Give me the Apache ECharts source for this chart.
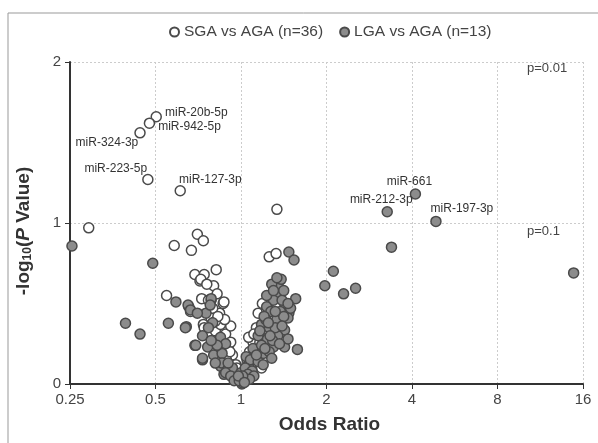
<!DOCTYPE html>
<html>
<head>
<meta charset="utf-8">
<script src="https://cdn.jsdelivr.net/npm/echarts@6/dist/echarts.min.js"></script>
<style>
html,body{margin:0;padding:0;background:#fff;}
#main{width:598px;height:443px;}
</style>
</head>
<body>
<div id="main"></div>
<script>
// x ticks (odds ratio, log2 axis)
var xTicks = [0.25, 0.5, 1, 2, 4, 8, 16];
var yTicks = [0, 1, 2];

// SGA vs AGA: [odds ratio, -log10 p, name]
var sgaPoints = [
	[0.503, 1.66, 'miR-20b-5p'], [0.476, 1.62, 'miR-942-5p'], [0.441, 1.56, 'miR-324-3p'],
	[0.470, 1.27, 'miR-223-5p'], [0.611, 1.20, 'miR-127-3p'],
	[1.338, 1.085], [0.291, 0.97], [0.582, 0.86], [0.669, 0.83], [0.702, 0.93], [0.737, 0.89],
	[0.688, 0.68], [0.742, 0.68], [0.717, 0.64], [0.818, 0.71], [0.547, 0.55], [0.664, 0.45],
	[0.727, 0.53], [0.801, 0.61], [1.257, 0.79], [1.329, 0.81],
	[0.722, 0.65], [0.865, 0.50], [0.801, 0.45], [0.737, 0.37], [0.871, 0.385], [0.901, 0.23],
	[0.768, 0.52], [0.824, 0.56], [0.841, 0.44], [0.785, 0.41], [0.812, 0.33], [0.883, 0.31],
	[0.841, 0.28], [0.920, 0.26], [0.858, 0.22], [0.933, 0.18], [0.889, 0.15], [0.959, 0.12],
	[0.920, 0.10], [0.973, 0.07], [0.946, 0.05], [0.986, 0.03], [0.742, 0.35], [0.847, 0.37],
	[0.920, 0.36], [0.876, 0.40], [0.871, 0.51], [0.795, 0.47], [0.758, 0.62], [0.812, 0.39],
	[0.914, 0.20], [0.829, 0.42], [0.966, 0.10],
	[1.087, 0.29], [1.149, 0.44], [1.157, 0.12], [1.102, 0.26], [1.064, 0.29], [1.181, 0.10],
	[1.043, 0.08], [1.021, 0.04], [1.117, 0.18], [1.214, 0.33], [1.231, 0.46], [1.274, 0.55],
	[1.189, 0.50], [1.133, 0.35], [1.248, 0.25], [1.320, 0.62], [1.072, 0.20], [1.165, 0.26],
	[1.094, 0.13], [1.338, 0.48], [1.283, 0.40], [1.110, 0.31], [1.050, 0.15], [1.206, 0.20]
];

// LGA vs AGA
var lgaPoints = [
	[3.272, 1.07, 'miR-212-3p'], [4.112, 1.18, 'miR-661'], [4.857, 1.01, 'miR-197-3p'],
	[0.254, 0.857], [0.489, 0.75], [0.392, 0.377], [0.441, 0.31], [0.590, 0.51], [0.555, 0.377],
	[0.655, 0.48], [0.642, 0.356], [0.688, 0.24], [0.732, 0.15], [1.474, 0.82], [1.537, 0.77],
	[1.558, 0.53], [1.580, 0.215], [1.357, 0.59], [2.114, 0.70], [1.973, 0.61], [2.297, 0.56],
	[2.532, 0.595], [3.387, 0.85], [14.83, 0.69],
	[0.785, 0.52], [0.651, 0.49], [0.664, 0.46], [0.753, 0.44], [0.795, 0.38], [0.637, 0.35],
	[0.693, 0.24], [0.763, 0.23], [0.732, 0.16], [0.829, 0.17], [0.847, 0.11], [0.871, 0.06],
	[0.785, 0.53], [0.768, 0.35], [0.801, 0.18], [0.858, 0.19], [0.858, 0.13], [0.895, 0.087],
	[0.939, 0.068], [0.973, 0.037], [1.007, 0.0], [0.847, 0.29], [0.883, 0.25], [0.702, 0.44],
	[0.779, 0.49], [0.933, 0.10], [0.901, 0.13], [0.959, 0.03], [0.824, 0.24], [0.883, 0.07],
	[0.812, 0.13], [0.920, 0.05], [0.732, 0.30], [0.785, 0.27], [0.946, 0.02],
	[1.357, 0.60], [1.366, 0.55], [1.301, 0.52], [1.424, 0.50], [1.474, 0.44], [1.464, 0.41],
	[1.181, 0.37], [1.257, 0.35], [1.424, 0.335], [1.197, 0.285], [1.301, 0.23], [1.424, 0.23],
	[1.117, 0.21], [1.197, 0.19], [1.043, 0.17], [1.064, 0.12], [1.000, 0.07], [1.014, 0.006],
	[1.385, 0.65], [1.231, 0.48], [1.274, 0.45], [1.338, 0.40], [1.223, 0.40], [1.376, 0.45],
	[1.149, 0.30], [1.240, 0.28], [1.347, 0.30], [1.102, 0.22], [1.257, 0.20], [1.079, 0.15],
	[1.149, 0.14], [1.035, 0.10], [1.094, 0.08], [1.028, 0.04], [0.986, 0.02], [1.395, 0.52],
	[1.320, 0.35], [1.292, 0.27], [1.181, 0.24], [1.464, 0.28], [1.206, 0.42], [1.283, 0.62],
	[1.414, 0.58], [1.231, 0.55], [1.301, 0.58], [1.338, 0.66], [1.414, 0.42], [1.495, 0.47],
	[1.165, 0.33], [1.266, 0.30], [1.366, 0.25], [1.214, 0.22], [1.133, 0.18], [1.283, 0.16],
	[1.057, 0.06], [1.110, 0.05], [1.072, 0.03], [1.014, 0.05], [0.979, 0.05], [1.028, 0.01],
	[1.395, 0.36], [1.320, 0.45], [1.248, 0.38], [1.464, 0.50], [1.197, 0.12]
];

// where each point label sits
var labelPlace = {
	'miR-20b-5p': {position: 'right', offset: [-2, -4]},
	'miR-942-5p': {position: 'right', offset: [-2, 4]},
	'miR-324-3p': {position: 'left', offset: [9, 10]},
	'miR-223-5p': {position: 'left', offset: [10, -11]},
	'miR-127-3p': {position: 'right', offset: [-12, -11]},
	'miR-661': {position: 'top', offset: [-6, 4]},
	'miR-212-3p': {position: 'top', offset: [-6, 5]},
	'miR-197-3p': {position: 'top', offset: [26, 4]}
};

var font = '"Liberation Sans", Arial, sans-serif';

function toData(points){
	return points.map(function(p){
		var item = {value: [p[0], p[1]]};
		if (p[2]) {
			var pl = labelPlace[p[2]];
			item.name = p[2];
			item.label = {
				show: true,
				formatter: p[2],
				position: pl.position,
				offset: pl.offset,
				color: '#333',
				fontSize: 12,
				fontFamily: font
			};
		}
		return item;
	});
}

var myChart = echarts.init(document.getElementById('main'));
var option = {
	animation: false,
	backgroundColor: '#fff',
	graphic: [
		{type: 'rect', shape: {x: 8, y: 13, width: 600, height: 440}, style: {fill: 'none', stroke: '#999', lineWidth: 1}, z: -1},
		{type: 'text', left: 527, top: 62, style: {text: 'p=0.01', fill: '#444', font: '13px ' + font}},
		{type: 'text', left: 527, top: 225, style: {text: 'p=0.1', fill: '#444', font: '13px ' + font}}
	],
	legend: {
		left: 164,
		top: 19,
		itemWidth: 9,
		itemHeight: 9,
		itemGap: 16,
		icon: 'circle',
		textStyle: {fontSize: 15.5, color: '#444', fontFamily: font},
		data: ['SGA vs AGA (n=36)', 'LGA vs AGA (n=13)']
	},
	grid: {left: 70, right: 15, top: 62, bottom: 59, containLabel: false},
	xAxis: {
		type: 'log',
		logBase: 2,
		min: xTicks[0],
		max: xTicks[xTicks.length - 1],
		splitNumber: 6,
		name: 'Odds Ratio',
		nameLocation: 'middle',
		nameGap: 31,
		nameTextStyle: {fontSize: 19, fontWeight: 'bold', color: '#333', fontFamily: font, padding: [0, 0, 0, 6]},
		axisLine: {show: true, lineStyle: {color: '#333', width: 2}},
		axisTick: {show: true, length: 5, lineStyle: {color: '#333'}},
		axisLabel: {
			color: '#444', fontSize: 15, fontFamily: font, margin: 8,
			formatter: function(v){ return String(+v.toFixed(2)); }
		},
		minorTick: {show: false},
		splitLine: {show: true, lineStyle: {color: '#cccccc', type: [2, 2]}}
	},
	yAxis: {
		type: 'value',
		min: yTicks[0],
		max: yTicks[yTicks.length - 1],
		interval: 1,
		name: '-log{sub|10}({it|P} Value)',
		nameLocation: 'middle',
		nameGap: 36,
		nameRotate: 90,
		nameTextStyle: {
			fontSize: 19, fontWeight: 'bold', color: '#333', fontFamily: font,
			padding: [0, 16, 0, 0],
			rich: {
				sub: {fontSize: 12, fontWeight: 'bold', color: '#333', fontFamily: font, verticalAlign: 'bottom', padding: [9, 0, 0, 0]},
				it: {fontSize: 19, fontWeight: 'bold', fontStyle: 'italic', color: '#333', fontFamily: font}
			}
		},
		axisLine: {show: true, lineStyle: {color: '#333', width: 2}},
		axisTick: {show: true, length: 5, lineStyle: {color: '#333'}},
		axisLabel: {color: '#444', fontSize: 15, fontFamily: font, margin: 9},
		splitLine: {show: true, lineStyle: {color: '#cccccc', type: [2, 2]}}
	},
	series: [
		{
			name: 'SGA vs AGA (n=36)',
			type: 'scatter',
			symbol: 'circle',
			symbolSize: 10,
			itemStyle: {color: '#ffffff', borderColor: '#4a4a4a', borderWidth: 1.5, opacity: 1},
			data: toData(sgaPoints)
		},
		{
			name: 'LGA vs AGA (n=13)',
			type: 'scatter',
			symbol: 'circle',
			symbolSize: 10,
			itemStyle: {color: '#8c8c8c', borderColor: '#4a4a4a', borderWidth: 1.5, opacity: 1},
			data: toData(lgaPoints)
		}
	]
};
myChart.setOption(option);
</script>
</body>
</html>
